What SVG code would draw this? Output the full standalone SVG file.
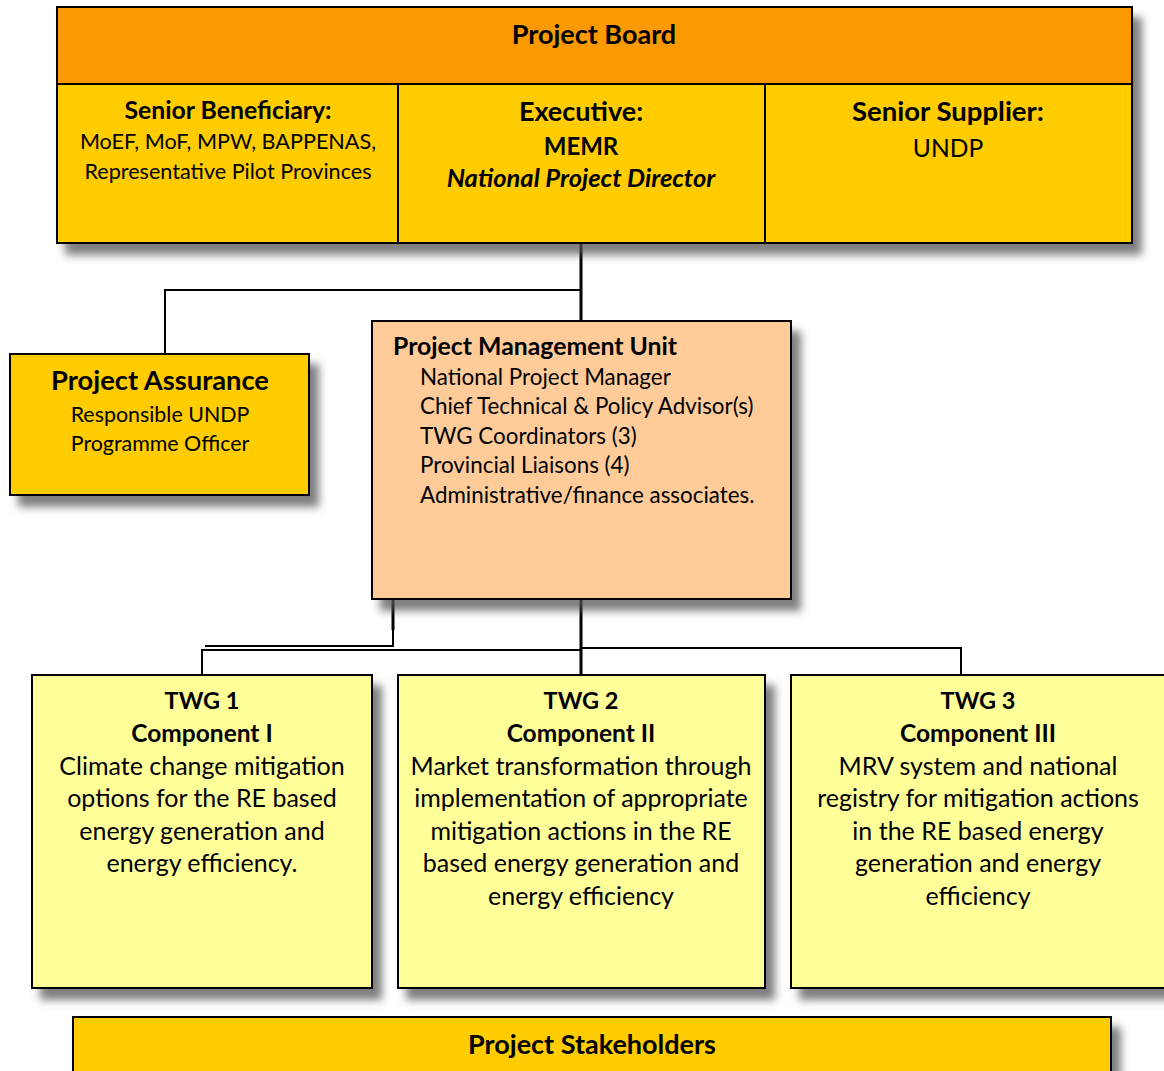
<svg xmlns="http://www.w3.org/2000/svg" width="1164" height="1071" viewBox="0 0 1164 1071">
<defs>
<filter id="sh" x="-10%" y="-10%" width="130%" height="140%">
<feDropShadow dx="9" dy="11" stdDeviation="4" flood-color="#555" flood-opacity="0.75"/>
</filter>
<style>
.box{stroke:#000;stroke-width:2}
.t{font-family:Lato,"Open Sans",sans-serif;fill:#000}
.c{text-anchor:middle}
.b{font-weight:bold}
.ln{stroke:#000;fill:none}
</style>
</defs>
<rect width="1164" height="1071" fill="#fff"/>
<g id="connectors">
<polyline class="ln" stroke-width="3" points="581,243 581,321"/>
<polyline class="ln" stroke-width="2" points="581,290 165,290 165,354"/>
<polyline class="ln" stroke-width="3" points="393,599 393,630"/>
<polyline class="ln" stroke-width="2" points="393,630 393,646 205,646"/>
<polyline class="ln" stroke-width="3" points="581,599 581,675"/>
<polyline class="ln" stroke-width="2" points="202,675 202,650 581,650 581,648 961,648 961,675"/>
</g>
<g id="project-board">
<rect class="box" x="57" y="7" width="1075" height="236" fill="#FFCC00" filter="url(#sh)"/>
<rect x="58" y="8" width="1073" height="76" fill="#FB9A00"/>
<line class="ln" stroke-width="2" x1="57" y1="84" x2="1132" y2="84"/>
<line class="ln" stroke-width="2" x1="398" y1="84" x2="398" y2="243"/>
<line class="ln" stroke-width="2" x1="765" y1="84" x2="765" y2="243"/>
<text class="t c b" x="594" y="44" font-size="27">Project Board</text>
</g>
<g id="senior-beneficiary">
<text class="t c b" x="228" y="119" font-size="24.8">Senior Beneficiary:</text>
<text class="t c" x="228" y="149" font-size="21.6">MoEF, MoF, MPW, BAPPENAS,</text>
<text class="t c" x="228" y="179" font-size="21.6">Representative Pilot Provinces</text>
</g>
<g id="executive">
<text class="t c b" x="581" y="121" font-size="27">Executive:</text>
<text class="t c b" x="581" y="155" font-size="24">MEMR</text>
<text class="t c b" x="581" y="187" font-size="25.5" font-style="italic">National Project Director</text>
</g>
<g id="senior-supplier">
<text class="t c b" x="948" y="121" font-size="27.5">Senior Supplier:</text>
<text class="t c" x="948" y="157" font-size="24.6">UNDP</text>
</g>
<g id="project-assurance">
<rect class="box" x="10" y="354" width="299" height="141" fill="#FFCC00" filter="url(#sh)"/>
<text class="t c b" x="160" y="390" font-size="27.3">Project Assurance</text>
<text class="t c" x="160" y="422" font-size="21.4">Responsible UNDP</text>
<text class="t c" x="160" y="451" font-size="21.4">Programme Officer</text>
</g>
<g id="pmu">
<rect class="box" x="372" y="321" width="419" height="278" fill="#FFCC99" filter="url(#sh)"/>
<text class="t b" x="393" y="355" font-size="24.8">Project Management Unit</text>
<text class="t" x="420" y="385" font-size="22.4">National Project Manager</text>
<text class="t" x="420" y="414" font-size="22.4">Chief Technical &amp; Policy Advisor(s)</text>
<text class="t" x="420" y="444" font-size="22.4">TWG Coordinators (3)</text>
<text class="t" x="420" y="473" font-size="22.4">Provincial Liaisons (4)</text>
<text class="t" x="420" y="503" font-size="22.4">Administrative/finance associates.</text>
</g>
<g id="twg1">
<rect class="box" x="32" y="675" width="340" height="313" fill="#FFFF99" filter="url(#sh)"/>
<text class="t c b" x="202" y="709" font-size="23.5">TWG 1</text>
<text class="t c b" x="202" y="742" font-size="24.5">Component I</text>
<text class="t c" x="202" y="775" font-size="25">Climate change mitigation</text>
<text class="t c" x="202" y="807" font-size="25">options for the RE based</text>
<text class="t c" x="202" y="840" font-size="25">energy generation and</text>
<text class="t c" x="202" y="872" font-size="25">energy efficiency.</text>
</g>
<g id="twg2">
<rect class="box" x="398" y="675" width="367" height="313" fill="#FFFF99" filter="url(#sh)"/>
<text class="t c b" x="581" y="709" font-size="23.5">TWG 2</text>
<text class="t c b" x="581" y="742" font-size="24.5">Component II</text>
<text class="t c" x="581" y="775" font-size="25">Market transformation through</text>
<text class="t c" x="581" y="807" font-size="25">implementation of appropriate</text>
<text class="t c" x="581" y="840" font-size="25">mitigation actions in the RE</text>
<text class="t c" x="581" y="872" font-size="25">based energy generation and</text>
<text class="t c" x="581" y="905" font-size="25">energy efficiency</text>
</g>
<g id="twg3">
<rect class="box" x="791" y="675" width="380" height="313" fill="#FFFF99" filter="url(#sh)"/>
<text class="t c b" x="978" y="709" font-size="23.5">TWG 3</text>
<text class="t c b" x="978" y="742" font-size="24.5">Component III</text>
<text class="t c" x="978" y="775" font-size="25">MRV system and national</text>
<text class="t c" x="978" y="807" font-size="25">registry for mitigation actions</text>
<text class="t c" x="978" y="840" font-size="25">in the RE based energy</text>
<text class="t c" x="978" y="872" font-size="25">generation and energy</text>
<text class="t c" x="978" y="905" font-size="25">efficiency</text>
</g>
<g id="project-stakeholders">
<rect class="box" x="73" y="1017" width="1038" height="70" fill="#FFCC00" filter="url(#sh)"/>
<text class="t c b" x="592" y="1054" font-size="27">Project Stakeholders</text>
</g>
</svg>
